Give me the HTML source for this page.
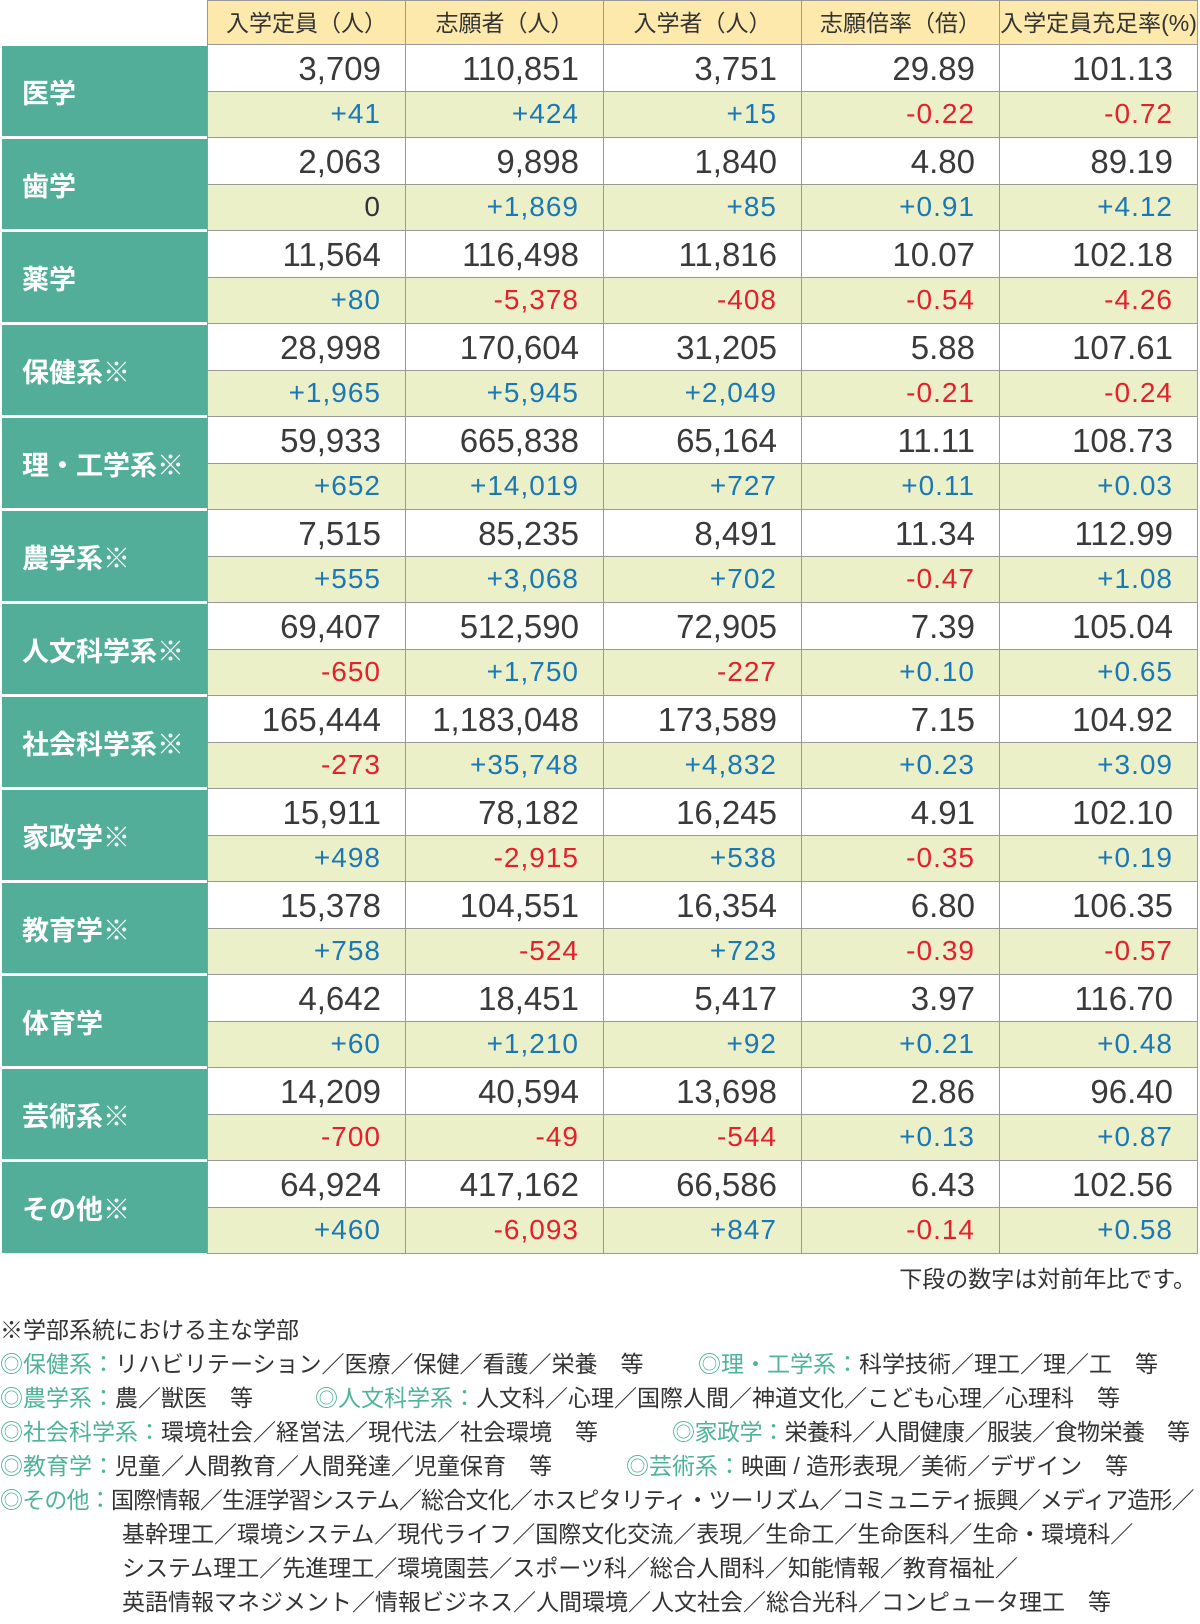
<!DOCTYPE html>
<html><head><meta charset="utf-8">
<style>
body{margin:0;background:#fff;width:1200px;height:1624px;position:relative;overflow:hidden;font-family:"Liberation Sans","Noto Sans CJK JP",sans-serif;color:#333}
.hd{position:absolute;top:0;height:45px;background:#fce9ab;border:1px solid #999;box-sizing:border-box;font-size:23px;line-height:44px;text-align:center;color:#333}
.lab{position:absolute;left:2px;width:205px;background:#52ae98;color:#fff;font-weight:bold;font-size:27px;box-sizing:border-box;padding-left:20px;display:flex;align-items:center}
.c{position:absolute;width:198px;box-sizing:border-box;border-right:1px solid #999;border-bottom:1px solid #999;text-align:right;padding-right:24px}
.t{background:#fff;font-size:33px;line-height:47px;height:47px;color:#3a3a3a}
.b{background:#ecf0c8;font-size:28px;line-height:44px;height:46px;letter-spacing:1px}
.p{color:#1a78b6}.m{color:#e3202b}
.fn{position:absolute;font-size:23px;color:#333;white-space:nowrap;line-height:34px}
.g{color:#4fb39a}
</style></head><body>
<div style="position:absolute;left:207px;top:45px;width:1px;height:1209px;background:#999"></div>
<div class="hd" style="left:207px;width:199px">入学定員（人）</div>
<div class="hd" style="left:405px;width:199px">志願者（人）</div>
<div class="hd" style="left:603px;width:199px">入学者（人）</div>
<div class="hd" style="left:801px;width:199px">志願倍率（倍）</div>
<div class="hd" style="left:999px;width:199px">入学定員充足率(%)</div>

<div class="lab" style="top:46px;height:90px">医学</div>
<div class="lab" style="top:139px;height:90px">歯学</div>
<div class="lab" style="top:232px;height:90px">薬学</div>
<div class="lab" style="top:325px;height:90px">保健系※</div>
<div class="lab" style="top:418px;height:90px">理・工学系※</div>
<div class="lab" style="top:511px;height:90px">農学系※</div>
<div class="lab" style="top:604px;height:90px">人文科学系※</div>
<div class="lab" style="top:697px;height:90px">社会科学系※</div>
<div class="lab" style="top:790px;height:90px">家政学※</div>
<div class="lab" style="top:883px;height:90px">教育学※</div>
<div class="lab" style="top:976px;height:90px">体育学</div>
<div class="lab" style="top:1069px;height:90px">芸術系※</div>
<div class="lab" style="top:1162px;height:91px">その他※</div>

<div style="position:absolute;left:208px;top:45px">
<div style="position:relative">
<div style="position:absolute;top:0">
<div class="c t" style="left:0;top:0">3,709</div><div class="c b p" style="left:0;top:47px">+41</div>
<div class="c t" style="left:198px;top:0">110,851</div><div class="c b p" style="left:198px;top:47px">+424</div>
<div class="c t" style="left:396px;top:0">3,751</div><div class="c b p" style="left:396px;top:47px">+15</div>
<div class="c t" style="left:594px;top:0">29.89</div><div class="c b m" style="left:594px;top:47px">-0.22</div>
<div class="c t" style="left:792px;top:0">101.13</div><div class="c b m" style="left:792px;top:47px">-0.72</div>
</div>
<div style="position:absolute;top:93px">
<div class="c t" style="left:0;top:0">2,063</div><div class="c b" style="left:0;top:47px">0</div>
<div class="c t" style="left:198px;top:0">9,898</div><div class="c b p" style="left:198px;top:47px">+1,869</div>
<div class="c t" style="left:396px;top:0">1,840</div><div class="c b p" style="left:396px;top:47px">+85</div>
<div class="c t" style="left:594px;top:0">4.80</div><div class="c b p" style="left:594px;top:47px">+0.91</div>
<div class="c t" style="left:792px;top:0">89.19</div><div class="c b p" style="left:792px;top:47px">+4.12</div>
</div>
<div style="position:absolute;top:186px">
<div class="c t" style="left:0;top:0">11,564</div><div class="c b p" style="left:0;top:47px">+80</div>
<div class="c t" style="left:198px;top:0">116,498</div><div class="c b m" style="left:198px;top:47px">-5,378</div>
<div class="c t" style="left:396px;top:0">11,816</div><div class="c b m" style="left:396px;top:47px">-408</div>
<div class="c t" style="left:594px;top:0">10.07</div><div class="c b m" style="left:594px;top:47px">-0.54</div>
<div class="c t" style="left:792px;top:0">102.18</div><div class="c b m" style="left:792px;top:47px">-4.26</div>
</div>
<div style="position:absolute;top:279px">
<div class="c t" style="left:0;top:0">28,998</div><div class="c b p" style="left:0;top:47px">+1,965</div>
<div class="c t" style="left:198px;top:0">170,604</div><div class="c b p" style="left:198px;top:47px">+5,945</div>
<div class="c t" style="left:396px;top:0">31,205</div><div class="c b p" style="left:396px;top:47px">+2,049</div>
<div class="c t" style="left:594px;top:0">5.88</div><div class="c b m" style="left:594px;top:47px">-0.21</div>
<div class="c t" style="left:792px;top:0">107.61</div><div class="c b m" style="left:792px;top:47px">-0.24</div>
</div>
<div style="position:absolute;top:372px">
<div class="c t" style="left:0;top:0">59,933</div><div class="c b p" style="left:0;top:47px">+652</div>
<div class="c t" style="left:198px;top:0">665,838</div><div class="c b p" style="left:198px;top:47px">+14,019</div>
<div class="c t" style="left:396px;top:0">65,164</div><div class="c b p" style="left:396px;top:47px">+727</div>
<div class="c t" style="left:594px;top:0">11.11</div><div class="c b p" style="left:594px;top:47px">+0.11</div>
<div class="c t" style="left:792px;top:0">108.73</div><div class="c b p" style="left:792px;top:47px">+0.03</div>
</div>
<div style="position:absolute;top:465px">
<div class="c t" style="left:0;top:0">7,515</div><div class="c b p" style="left:0;top:47px">+555</div>
<div class="c t" style="left:198px;top:0">85,235</div><div class="c b p" style="left:198px;top:47px">+3,068</div>
<div class="c t" style="left:396px;top:0">8,491</div><div class="c b p" style="left:396px;top:47px">+702</div>
<div class="c t" style="left:594px;top:0">11.34</div><div class="c b m" style="left:594px;top:47px">-0.47</div>
<div class="c t" style="left:792px;top:0">112.99</div><div class="c b p" style="left:792px;top:47px">+1.08</div>
</div>
<div style="position:absolute;top:558px">
<div class="c t" style="left:0;top:0">69,407</div><div class="c b m" style="left:0;top:47px">-650</div>
<div class="c t" style="left:198px;top:0">512,590</div><div class="c b p" style="left:198px;top:47px">+1,750</div>
<div class="c t" style="left:396px;top:0">72,905</div><div class="c b m" style="left:396px;top:47px">-227</div>
<div class="c t" style="left:594px;top:0">7.39</div><div class="c b p" style="left:594px;top:47px">+0.10</div>
<div class="c t" style="left:792px;top:0">105.04</div><div class="c b p" style="left:792px;top:47px">+0.65</div>
</div>
<div style="position:absolute;top:651px">
<div class="c t" style="left:0;top:0">165,444</div><div class="c b m" style="left:0;top:47px">-273</div>
<div class="c t" style="left:198px;top:0">1,183,048</div><div class="c b p" style="left:198px;top:47px">+35,748</div>
<div class="c t" style="left:396px;top:0">173,589</div><div class="c b p" style="left:396px;top:47px">+4,832</div>
<div class="c t" style="left:594px;top:0">7.15</div><div class="c b p" style="left:594px;top:47px">+0.23</div>
<div class="c t" style="left:792px;top:0">104.92</div><div class="c b p" style="left:792px;top:47px">+3.09</div>
</div>
<div style="position:absolute;top:744px">
<div class="c t" style="left:0;top:0">15,911</div><div class="c b p" style="left:0;top:47px">+498</div>
<div class="c t" style="left:198px;top:0">78,182</div><div class="c b m" style="left:198px;top:47px">-2,915</div>
<div class="c t" style="left:396px;top:0">16,245</div><div class="c b p" style="left:396px;top:47px">+538</div>
<div class="c t" style="left:594px;top:0">4.91</div><div class="c b m" style="left:594px;top:47px">-0.35</div>
<div class="c t" style="left:792px;top:0">102.10</div><div class="c b p" style="left:792px;top:47px">+0.19</div>
</div>
<div style="position:absolute;top:837px">
<div class="c t" style="left:0;top:0">15,378</div><div class="c b p" style="left:0;top:47px">+758</div>
<div class="c t" style="left:198px;top:0">104,551</div><div class="c b m" style="left:198px;top:47px">-524</div>
<div class="c t" style="left:396px;top:0">16,354</div><div class="c b p" style="left:396px;top:47px">+723</div>
<div class="c t" style="left:594px;top:0">6.80</div><div class="c b m" style="left:594px;top:47px">-0.39</div>
<div class="c t" style="left:792px;top:0">106.35</div><div class="c b m" style="left:792px;top:47px">-0.57</div>
</div>
<div style="position:absolute;top:930px">
<div class="c t" style="left:0;top:0">4,642</div><div class="c b p" style="left:0;top:47px">+60</div>
<div class="c t" style="left:198px;top:0">18,451</div><div class="c b p" style="left:198px;top:47px">+1,210</div>
<div class="c t" style="left:396px;top:0">5,417</div><div class="c b p" style="left:396px;top:47px">+92</div>
<div class="c t" style="left:594px;top:0">3.97</div><div class="c b p" style="left:594px;top:47px">+0.21</div>
<div class="c t" style="left:792px;top:0">116.70</div><div class="c b p" style="left:792px;top:47px">+0.48</div>
</div>
<div style="position:absolute;top:1023px">
<div class="c t" style="left:0;top:0">14,209</div><div class="c b m" style="left:0;top:47px">-700</div>
<div class="c t" style="left:198px;top:0">40,594</div><div class="c b m" style="left:198px;top:47px">-49</div>
<div class="c t" style="left:396px;top:0">13,698</div><div class="c b m" style="left:396px;top:47px">-544</div>
<div class="c t" style="left:594px;top:0">2.86</div><div class="c b p" style="left:594px;top:47px">+0.13</div>
<div class="c t" style="left:792px;top:0">96.40</div><div class="c b p" style="left:792px;top:47px">+0.87</div>
</div>
<div style="position:absolute;top:1116px">
<div class="c t" style="left:0;top:0">64,924</div><div class="c b p" style="left:0;top:47px">+460</div>
<div class="c t" style="left:198px;top:0">417,162</div><div class="c b m" style="left:198px;top:47px">-6,093</div>
<div class="c t" style="left:396px;top:0">66,586</div><div class="c b p" style="left:396px;top:47px">+847</div>
<div class="c t" style="left:594px;top:0">6.43</div><div class="c b m" style="left:594px;top:47px">-0.14</div>
<div class="c t" style="left:792px;top:0">102.56</div><div class="c b p" style="left:792px;top:47px">+0.58</div>
</div>
</div></div>

<div class="fn" style="right:4px;top:1262px">下段の数字は対前年比です。</div>
<div class="fn" style="left:0;top:1313px">※学部系統における主な学部</div>
<div class="fn" style="left:0;top:1347px"><span class="g">◎保健系：</span>リハビリテーション／医療／保健／看護／栄養　等</div>
<div class="fn" style="left:698px;top:1347px"><span class="g">◎理・工学系：</span>科学技術／理工／理／工　等</div>
<div class="fn" style="left:0;top:1381px"><span class="g">◎農学系：</span>農／獣医　等</div>
<div class="fn" style="left:315px;top:1381px"><span class="g">◎人文科学系：</span>人文科／心理／国際人間／神道文化／こども心理／心理科　等</div>
<div class="fn" style="left:0;top:1415px"><span class="g">◎社会科学系：</span>環境社会／経営法／現代法／社会環境　等</div>
<div class="fn" style="left:672px;top:1415px;letter-spacing:-0.5px"><span class="g">◎家政学：</span>栄養科／人間健康／服装／食物栄養　等</div>
<div class="fn" style="left:0;top:1449px"><span class="g">◎教育学：</span>児童／人間教育／人間発達／児童保育　等</div>
<div class="fn" style="left:626px;top:1449px"><span class="g">◎芸術系：</span>映画 / 造形表現／美術／デザイン　等</div>
<div class="fn" style="left:0;top:1483px;letter-spacing:-0.8px"><span class="g">◎その他：</span>国際情報／生涯学習システム／総合文化／ホスピタリティ・ツーリズム／コミュニティ振興／メディア造形／</div>
<div class="fn" style="left:122px;top:1517px">基幹理工／環境システム／現代ライフ／国際文化交流／表現／生命工／生命医科／生命・環境科／</div>
<div class="fn" style="left:122px;top:1551px">システム理工／先進理工／環境園芸／スポーツ科／総合人間科／知能情報／教育福祉／</div>
<div class="fn" style="left:122px;top:1585px">英語情報マネジメント／情報ビジネス／人間環境／人文社会／総合光科／コンピュータ理工　等</div>
</body></html>
